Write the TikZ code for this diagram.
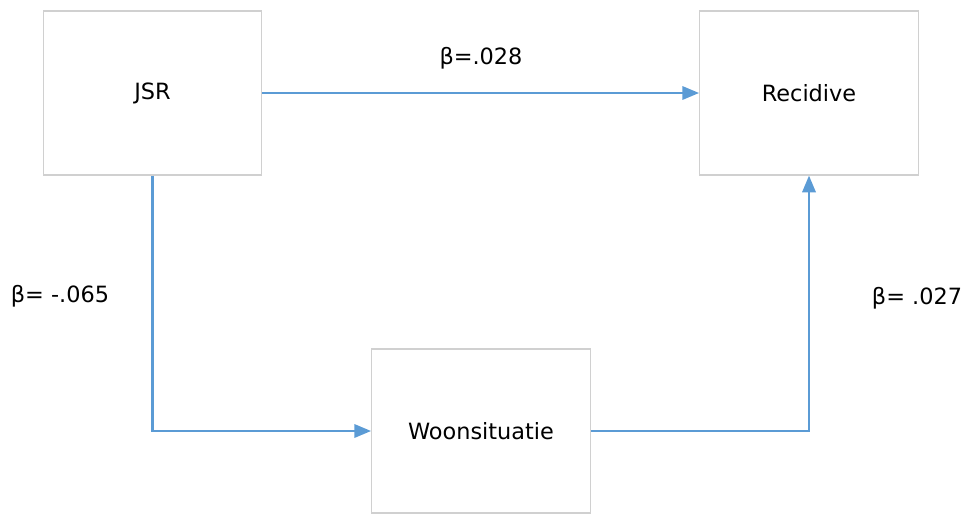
\documentclass[tikz,border=0pt]{standalone}
\usepackage{fontspec}
\setmainfont{DejaVu Sans}
\usetikzlibrary{arrows.meta}
\definecolor{pijl}{HTML}{5B9BD5}
\definecolor{rand}{HTML}{D0D0D0}
\begin{document}
\begin{tikzpicture}[x=0.75pt,y=-0.75pt]

        \useasboundingbox (0,0) rectangle (971,514);

        \begin{scope}[every node/.style={draw=rand, line width=0.9pt, fill=white,
            minimum width=164pt, minimum height=123pt, font=\fontsize{16.8}{19}\selectfont}]
          \node (jsr) at (152.5,93)  {JSR};
          \node (rec) at (809,93)    {Recidive};
          \node (woon) at (481,431)  {Woonsituatie};
        \end{scope}

        \begin{scope}[every node/.style={font=\fontsize{16.8}{19}\selectfont}]
          \node (b1) at (481,58)  {β=.028};
          \node (b2) at (60,296)  {β= -.065};
          \node (b3) at (917,298) {β= .027};
        \end{scope}

        \begin{scope}[draw=pijl, line width=1.7pt, -{Triangle[length=12.5pt,width=10pt]}]
          \draw (jsr.east) -- (rec.west);
          \draw (jsr.south) |- (woon.west);
          \draw (woon.east) -| (rec.south);
        \end{scope}

      \end{tikzpicture}
\end{document}
